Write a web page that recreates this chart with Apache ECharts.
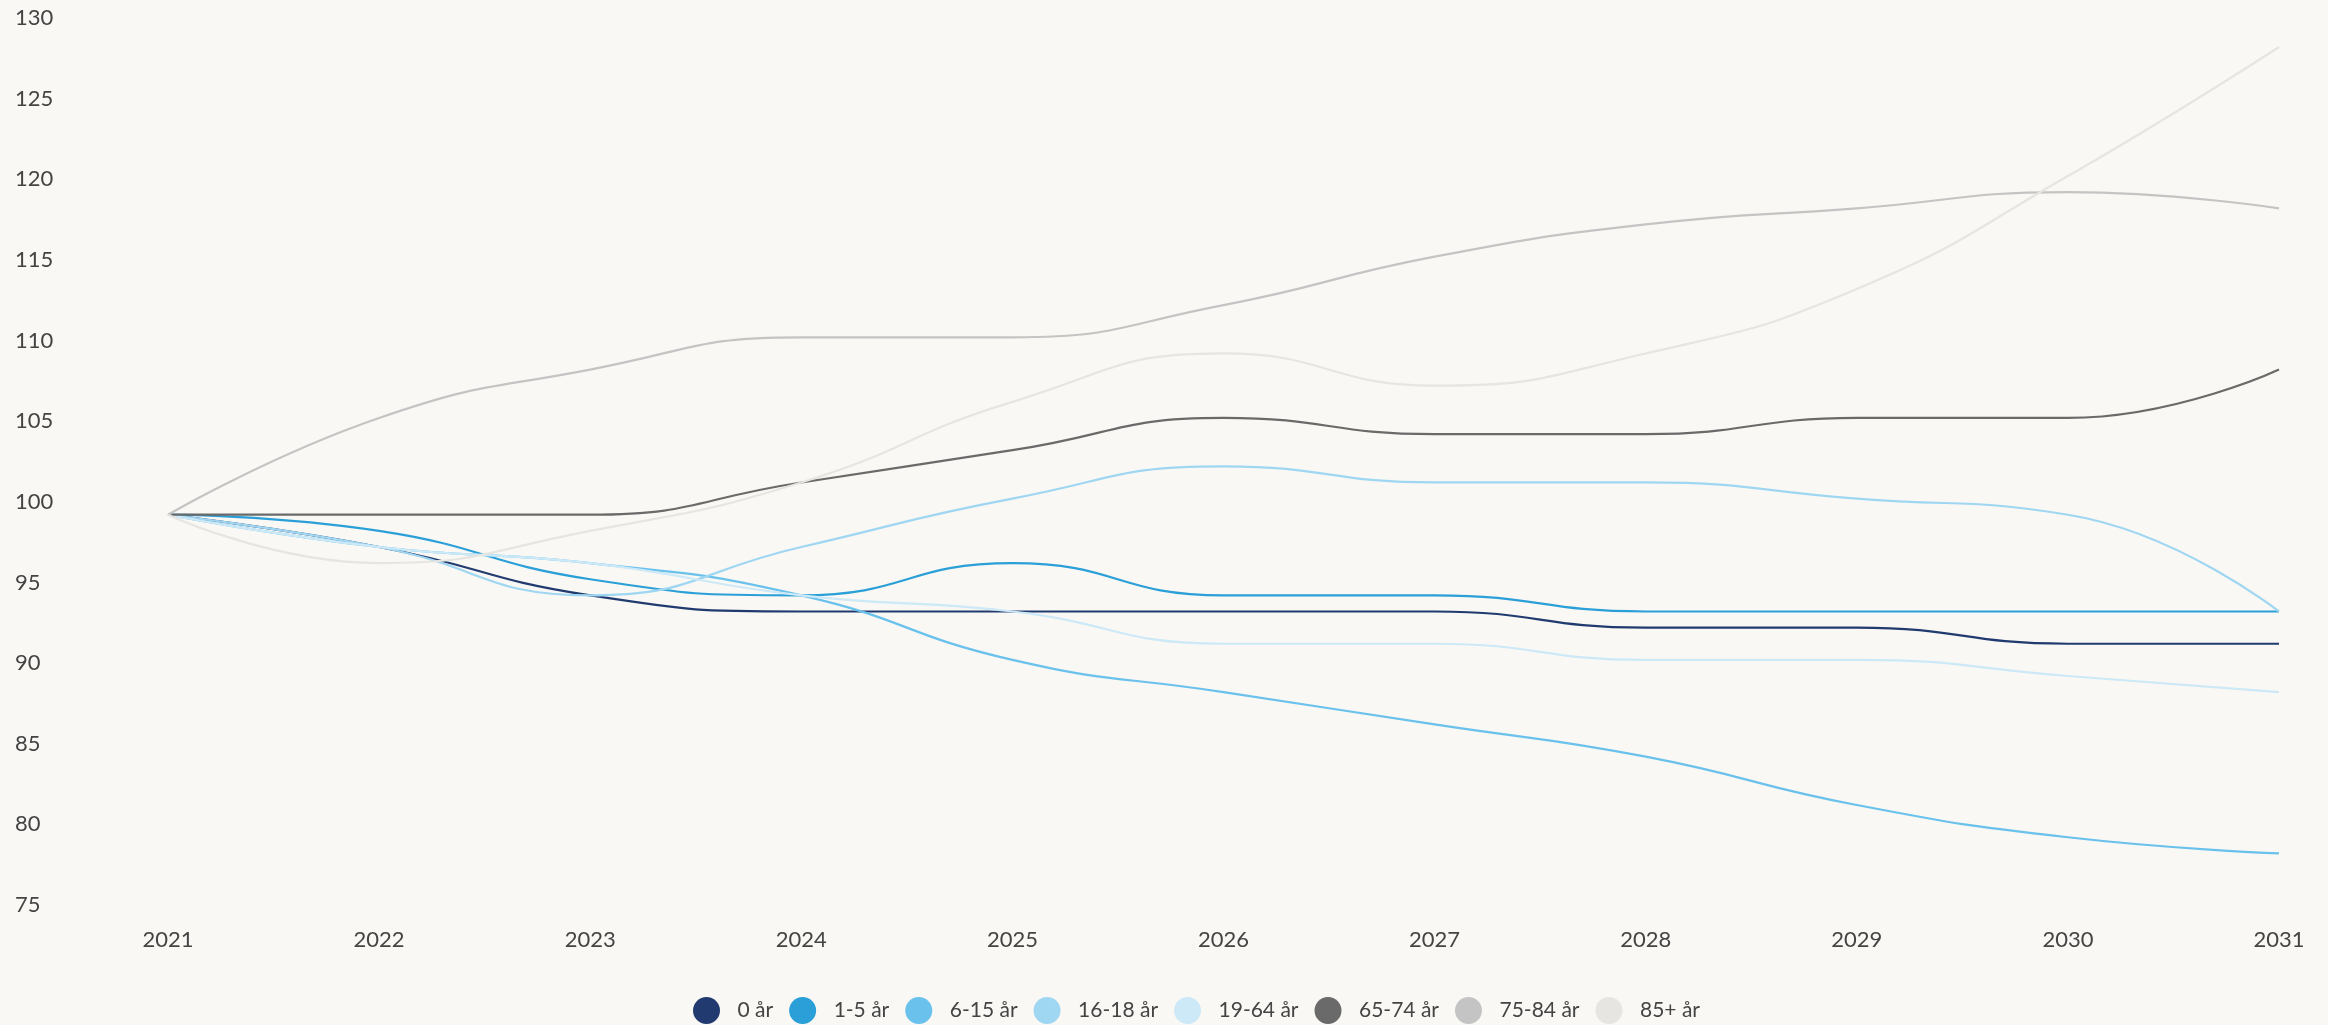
<!DOCTYPE html>
<html>
<head>
<meta charset="utf-8">
<script src="https://cdn.jsdelivr.net/npm/echarts@6/dist/echarts.min.js"></script>
<style>
html,body{margin:0;padding:0;background:#f9f8f4;}
#chart{width:2328px;height:1025px;}
</style>
</head>
<body>
<div id="chart"></div>
<script>
const years = ['2021','2022','2023','2024','2025','2026','2027','2028','2029','2030','2031'];
const seriesNames = ['0 år','1-5 år','6-15 år','16-18 år','19-64 år','65-74 år','75-84 år','85+ år'];
const s0 = [99.2, 97.2, 94.2, 93.2, 93.2, 93.2, 93.2, 92.2, 92.2, 91.2, 91.2];
const s1_5 = [99.2, 98.2, 95.2, 94.2, 96.2, 94.2, 94.2, 93.2, 93.2, 93.2, 93.2];
const s6_15 = [99.2, 97.2, 96.2, 94.2, 90.2, 88.2, 86.2, 84.2, 81.2, 79.2, 78.2];
const s16_18 = [99.2, 97.2, 94.2, 97.2, 100.2, 102.2, 101.2, 101.2, 100.2, 99.2, 93.2];
const s19_64 = [99.2, 97.2, 96.2, 94.2, 93.2, 91.2, 91.2, 90.2, 90.2, 89.2, 88.2];
const s65_74 = [99.2, 99.2, 99.2, 101.2, 103.2, 105.2, 104.2, 104.2, 105.2, 105.2, 108.2];
const s75_84 = [99.2, 105.2, 108.2, 110.2, 110.2, 112.2, 115.2, 117.2, 118.2, 119.2, 118.2];
const s85 = [99.2, 96.2, 98.2, 101.2, 106.2, 109.2, 107.2, 109.2, 113.2, 120.2, 128.2];
const colors = ['#213a6f','#2a9fd8','#69c1ec','#9fd6f2','#cde9f7','#6a6a6a','#c4c4c4','#e7e5e1'];
const allData = [s0, s1_5, s6_15, s16_18, s19_64, s65_74, s75_84, s85];

const chart = echarts.init(document.getElementById('chart'), null, {renderer:'canvas'});
const font = 'Lato, "Noto Sans", sans-serif';
chart.setOption({
  backgroundColor: '#f9f8f4',
  animation: false,
  color: colors,
  grid: {left: 168, right: 49, top: 18, bottom: 120, containLabel: false},
  legend: {
    top: 992,
    left: 688,
    icon: 'circle',
    itemWidth: 28,
    itemHeight: 27,
    itemGap: 16,
    textStyle: {color: '#444', fontFamily: font, fontSize: 21, padding: [0, 0, 0, 12]},
    data: seriesNames
  },
  xAxis: {
    type: 'category',
    data: years,
    boundaryGap: false,
    axisLine: {show: false},
    axisTick: {show: false},
    splitLine: {show: false},
    axisLabel: {color: '#444', fontFamily: font, fontSize: 22, margin: 24}
  },
  yAxis: {
    type: 'value',
    min: 75,
    max: 130,
    interval: 5,
    axisLine: {show: false},
    axisTick: {show: false},
    splitLine: {show: false},
    axisLabel: {color: '#444', fontFamily: font, fontSize: 22, align: 'left', margin: 153}
  },
  series: seriesNames.map((n, i) => ({
    name: n,
    type: 'line',
    data: allData[i],
    smooth: 0.5,
    showSymbol: false,
    symbol: 'none',
    lineStyle: {width: 2.2, color: colors[i]},
    itemStyle: {color: colors[i]}
  }))
});
</script>
</body>
</html>
